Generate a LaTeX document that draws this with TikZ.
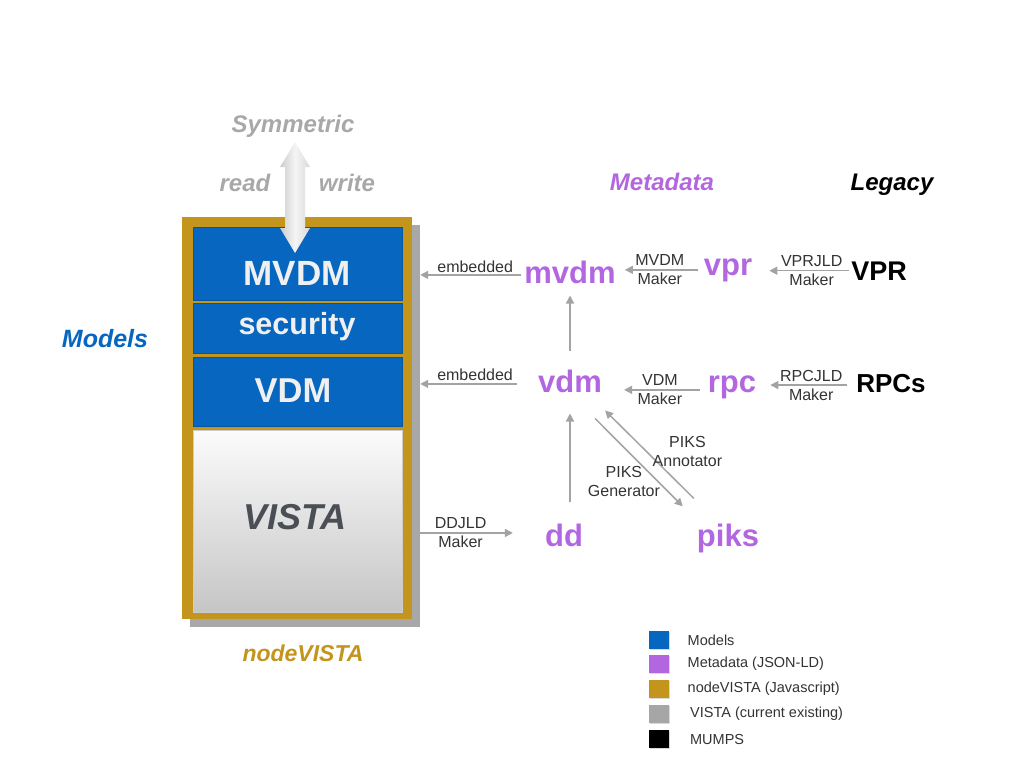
\documentclass[tikz,border=0pt]{standalone}
\usepackage{fontspec}
\setmainfont{Liberation Sans}
\usetikzlibrary{arrows.meta,shadows}
\definecolor{mblue}{HTML}{0766C0}
\definecolor{mpurple}{HTML}{B266E0}
\definecolor{mgold}{HTML}{C3951C}
\definecolor{mgray}{HTML}{A8A8A8}
\definecolor{mline}{HTML}{A3A3A3}
\definecolor{mvista}{HTML}{4A4F55}
\newcommand{\fs}[1]{\fontsize{#1}{#1}\selectfont}

\begin{document}
\begin{tikzpicture}[x=1pt, y=-1pt,
		layer/.style={fill=mblue, draw=mblue!85!black, line width=0.6pt, minimum width=209pt, minimum height=#1, inner sep=0pt},
		boxtxt/.style={anchor=base, text=white!88!gray, font=\bfseries\fs{#1}},
		head/.style={anchor=base, font=\bfseries\itshape\fs{24}},
		meta/.style={anchor=base, text=mpurple, font=\bfseries\fs{31}, inner sep=2pt},
		legacy/.style={anchor=base, text=black, font=\bfseries\fs{#1}, inner sep=2pt},
		flow/.style={draw=mline, line width=1.5pt, -{Triangle[length=8pt,width=8pt]}},
		tag/.style={font=\fontsize{16}{19}\selectfont, text=black!80, align=center, inner sep=1pt},
		key/.style={minimum width=20pt, minimum height=18pt, inner sep=0pt, drop shadow={shadow xshift=1pt, shadow yshift=-1pt, opacity=0.3},
			label={[font=\fs{14.5}, text=black!80, label distance=15pt]right:#1}}
		]
	\useasboundingbox (0,0) rectangle (1024,768);
	% nodeVISTA stack
	\node[fill=gray!68, minimum width=230pt, minimum height=402pt] (nvs) at (305,426) {};
	\node[fill=mgold, minimum width=230pt, minimum height=402pt] (nv) at (297,418) {};
	\node[layer=73pt] (lmvdm) at (297.5,263.5) {};
	\node[layer=50pt] (lsec) at (297.5,328) {};
	\node[layer=69pt] (lvdm) at (297.5,391.5) {};
	\node[layer=182pt, draw=gray!40, top color=white!97!gray, bottom color=gray!45] (lvista) at (297.5,521) {};
	\node[boxtxt=35] (tmvdm) at (297,285) {MVDM};
	\node[boxtxt=30.5] (tsec) at (297,334) {security};
	\node[boxtxt=34.5] (tvdm) at (293,402) {VDM};
	\node[anchor=base, text=mvista, font=\bfseries\itshape\fs{36}] (tvista) at (295,529) {VISTA};
	% read / write
	\shade[left color=gray!40, right color=gray!30, middle color=gray!8]
		(295,142) -- (310,167) -- (305,167) -- (305,228) -- (310,228) -- (295,253)
		-- (280,228) -- (285,228) -- (285,167) -- (280,167) -- cycle;
	\node[head, text=mgray] (sym) at (293,132) {Symmetric};
	\node[head, text=mgray] (rd) at (245,191) {read};
	\node[head, text=mgray] (wr) at (347,191) {write};
	\node[head, text=mblue, font=\bfseries\itshape\fs{25}] (models) at (105,347) {Models};
	\node[head, text=mgold, font=\bfseries\itshape\fs{23}] (nvlbl) at (303,661) {nodeVISTA};
	\node[head, text=mpurple] (metalbl) at (662,190) {Metadata};
	\node[head, text=black] (legacylbl) at (892,190) {Legacy};
	% metadata and legacy
	\node[meta] (mvdm) at (570,283) {mvdm};
	\node[meta] (vpr) at (728,275) {vpr};
	\node[legacy=27] (VPR) at (879,280) {VPR};
	\node[meta] (vdm) at (570,392) {vdm};
	\node[meta] (rpc) at (732,392) {rpc};
	\node[legacy=26] (RPCs) at (891,392) {RPCs};
	\node[meta] (dd) at (564,546) {dd};
	\node[meta] (piks) at (728,546) {piks};
	% connectors
	\draw[flow, shorten <=1pt] ([yshift=-3pt]mvdm.west) coordinate (e1) -- (e1 -| nvs.east)
		node[tag, midway, above, yshift=1pt, xshift=4pt] {embedded};
	\draw[flow, shorten <=4pt, shorten >=7pt] (vpr.west) -- (vpr.west -| mvdm.east)
		node[tag, midway] {MVDM\\Maker};
	\draw[flow, shorten >=15pt] (VPR.west) -- (VPR.west -| vpr.east)
		node[tag, midway, xshift=10pt] {VPRJLD\\Maker};
	\draw[flow, shorten <=19pt] ([yshift=-3pt]vdm.west) coordinate (e2) -- (e2 -| nvs.east)
		node[tag, midway, above, yshift=2pt, xshift=-3pt] {embedded};
	\draw[flow, shorten <=6pt, shorten >=20pt] ([yshift=-3pt]rpc.west) coordinate (e3) -- (e3 -| vdm.east)
		node[tag, midway, xshift=5pt] {VDM\\Maker};
	\draw[flow, shorten <=7pt, shorten >=12pt] ([yshift=-2pt]RPCs.west) coordinate (e4) -- (e4 -| rpc.east)
		node[tag, midway, xshift=5pt] {RPCJLD\\Maker};
	\draw[flow, shorten <=16pt, shorten >=10pt] (vdm.north) -- (mvdm.south);
	\draw[flow, shorten <=19pt, shorten >=19pt] (dd.north -| vdm.south) -- (vdm.south);
	\draw[flow, shorten >=30pt] ([yshift=2pt]dd.west) coordinate (e5) (e5 -| nvs.east) -- (e5)
		node[tag, midway, xshift=-21pt] {DDJLD\\Maker};
	\draw[flow] ([shift={(-9pt,-24pt)}]vdm.south east) -- ([shift={(-12pt,15pt)}]piks.north west)
		node[tag, midway, xshift=-15pt, yshift=-19pt] {PIKS\\Generator};
	\draw[flow] ([shift={(-1pt,23pt)}]piks.north west) -- ([shift={(1pt,-16pt)}]vdm.south east)
		node[tag, midway, xshift=38pt, yshift=3pt] {PIKS\\Annotator};
	% legend
	\node[key=Models, fill=mblue] (k1) at (659,640) {};
	\node[key={Metadata (JSON-LD)}, fill=mpurple] (k2) at (659,664) {};
	\node[key={nodeVISTA (Javascript)}, fill=mgold] (k3) at (659,689) {};
	\node[key={\,VISTA (current existing)}, fill=gray!70] (k4) at (659,714) {};
	\node[key={\,MUMPS}, fill=black] (k5) at (659,739) {};
\end{tikzpicture}
\end{document}
